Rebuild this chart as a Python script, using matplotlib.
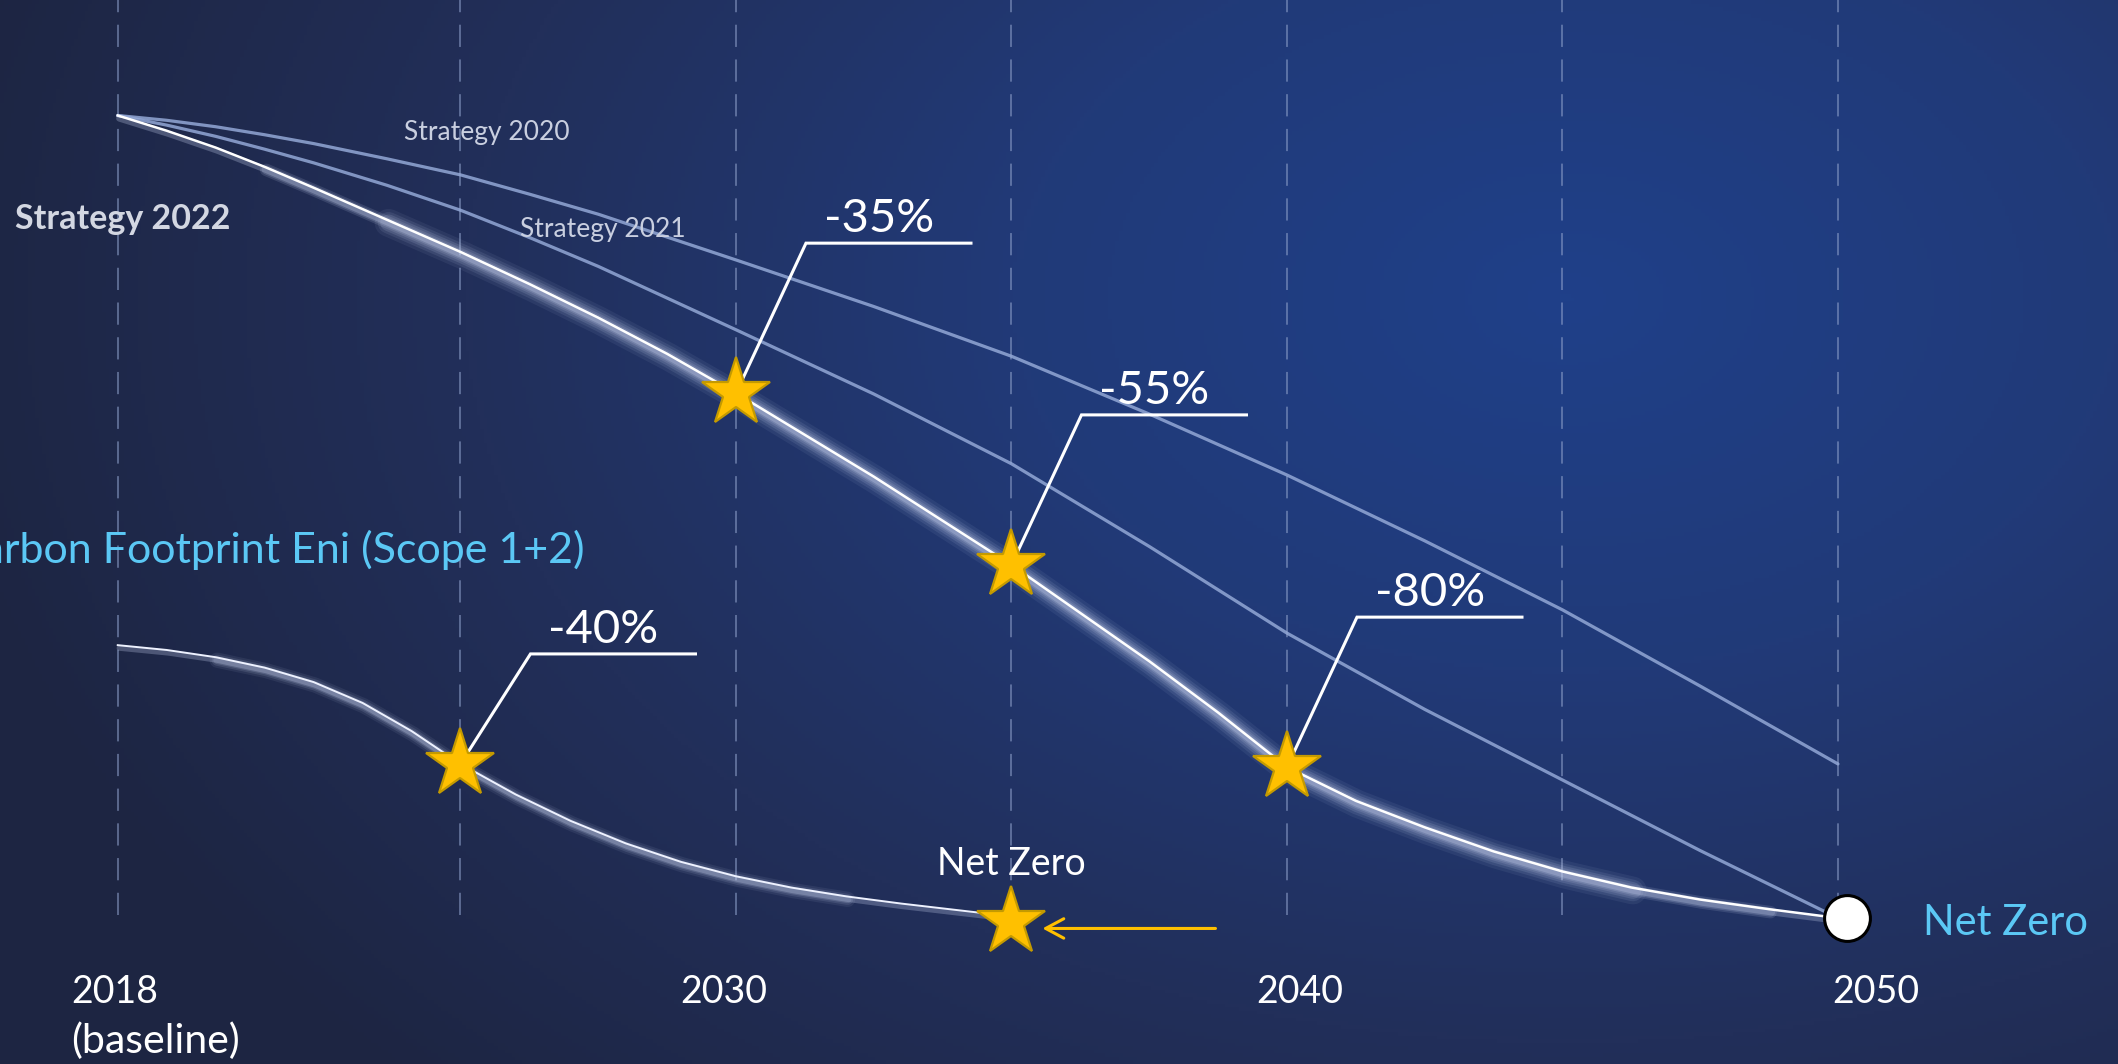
import numpy as np
import matplotlib.pyplot as plt
from matplotlib import transforms
from matplotlib.colors import LinearSegmentedColormap

# ---- values (index: 2018 baseline of Strategy 2022 = 100) ----
years_2020 = [2018, 2019, 2020, 2021, 2022, 2023.5, 2025, 2026.25, 2027.5, 2030, 2032.5,
              2035, 2037.5, 2040, 2042.5, 2045, 2047.5, 2050]
strategy_2020 = [100, 99.4, 98.6, 97.6, 96.5, 94.6, 92.6, 90.2, 87.7, 82.0, 76.2,
                 70.0, 62.8, 55.2, 47.0, 38.4, 28.9, 19.2]

years_2021 = [2018, 2019, 2020, 2021, 2022, 2023.5, 2025, 2026.25, 2027.5, 2030, 2032.5,
              2035, 2037.5, 2040, 2042.5, 2045, 2047.5, 2050]
strategy_2021 = [100, 98.8, 97.4, 95.8, 94.1, 91.3, 88.2, 84.8, 81.2, 73.3, 65.3,
                 56.6, 46.3, 35.5, 26.0, 17.2, 8.4, 0.0]

years_2022 = [2018, 2019, 2020, 2021, 2022, 2023.5, 2025, 2026.25, 2027.5, 2028.75, 2030,
              2032.5, 2035, 2037.5, 2038.75, 2040, 2041.25, 2042.5, 2043.75, 2045,
              2046.25, 2047.5, 2048.75, 2050]
strategy_2022 = [100, 98.1, 96.0, 93.6, 91.0, 87.0, 83.0, 79.0, 74.8, 70.3, 65.4,
                 55.0, 44.0, 32.0, 25.6, 18.8, 14.6, 11.3, 8.3, 5.8,
                 3.8, 2.3, 1.1, 0.0]

years_fp = [2018, 2019, 2020, 2021, 2022, 2023, 2024, 2025, 2026, 2027, 2028, 2029,
            2030, 2031, 2032, 2033, 2034.5]
footprint = [34.0, 33.4, 32.5, 31.2, 29.4, 26.8, 23.3, 19.2, 15.4, 12.1, 9.3, 7.0,
             5.2, 3.8, 2.7, 1.8, 0.6]

milestone_years = [2030, 2035, 2040]
milestone_labels = ["-35%", "-55%", "-80%"]
fp_milestone_year = 2025
fp_milestone_label = "-40%"
fp_netzero_year = 2035
netzero_year = 2050

grid_years = [2018, 2025, 2030, 2035, 2040, 2045, 2050]
tick_labels = ["2018", "2030", "2040", "2050"]
tick_pos = [2017.94, 2029.78, 2040.23, 2050.69]

# ---- layout helpers ----
BASE_POS = 2018.78          # baseline drawn a little right of a linear 2018
PX_X = 1 / 55.1             # years per pixel
PX_Y = 1 / 8.025            # index units per pixel


def xpos(year):
    return np.interp(year, [2018, 2025, 2050], [BASE_POS, 2025, 2050])


def val_at(years, vals, year):
    return vals[list(years).index(year)]


plt.rcParams['font.family'] = ['Lato', 'DejaVu Sans']

fig = plt.figure(figsize=(21.18, 10.64), dpi=100)

# background gradient
bg = fig.add_axes([0, 0, 1, 1], zorder=-10)
h, w = 300, 600
yy, xx = np.mgrid[0:1:h * 1j, 0:1:w * 1j]
d = np.sqrt(((xx - 0.74) / 0.78) ** 2 + ((yy - 0.28) / 1.05) ** 2)
bg_cmap = LinearSegmentedColormap.from_list(
    "bg", ["#1f4089", "#213a78", "#222f5a", "#1d2542"])
bg.imshow(d, cmap=bg_cmap, vmin=0, vmax=1.0, aspect='auto', extent=[0, 1, 0, 1], origin='upper')
bg.axis('off')

ax = fig.add_axes([0, 0, 1, 1])
ax.patch.set_alpha(0)
ax.set_xlim(2016.643, 2055.082)
ax.set_ylim(-18.19, 114.39)
ax.axis('off')

# dashed year grid
glw = 1.1
for gy in grid_years:
    ax.plot([xpos(gy)] * 2, [0.4, 114.39], color='#8d9fc9', alpha=0.7, lw=glw,
            ls=(0, (16 / glw, 9 / glw)), zorder=1)

# older strategies
for yrs, vals in ((years_2020, strategy_2020), (years_2021, strategy_2021)):
    ax.plot(xpos(yrs), vals, color='#93a8d6', alpha=0.85, lw=2.3,
            solid_capstyle='round', solid_joinstyle='round', zorder=3)

# soft glow below the highlighted paths
glow_tr = transforms.offset_copy(ax.transData, fig=fig, x=1.5, y=-3, units='dots')


def glow_line(xs, ys, widths, alphas):
    for lw, a in zip(widths, alphas):
        ax.plot(xs, ys, color='#c8d3f0', alpha=a, lw=lw, transform=glow_tr,
                solid_capstyle='round', solid_joinstyle='round', zorder=4)


def sel(years, vals, lo, hi):
    xs = [y for y in years if lo <= y <= hi]
    vs = [v for y, v in zip(years, vals) if lo <= y <= hi]
    return xpos(xs), vs


x22 = xpos(years_2022)
glow_line(x22, strategy_2022, [4.5], [0.28])
glow_line(*sel(years_2022, strategy_2022, 2021, 2048.75), [9, 6.5], [0.14, 0.2])
glow_line(*sel(years_2022, strategy_2022, 2023.5, 2046.25), [20, 15.5, 12], [0.07, 0.1, 0.14])
ax.plot(x22, strategy_2022, color='white', lw=1.8, solid_joinstyle='round', zorder=5)

xfp = xpos(years_fp)
glow_line(xfp, footprint, [3.8], [0.28])
glow_line(*sel(years_fp, footprint, 2020, 2032), [11, 8, 5.5], [0.08, 0.12, 0.18])
ax.plot(xfp, footprint, color='#eef2ff', lw=1.4, solid_joinstyle='round', zorder=5)

# milestone stars with leader lines
star_kw = dict(marker='*', ms=52, mfc='#FFC000', mec='#C49A00', mew=1.6, ls='none', zorder=7)


def milestone(year, y, label, rise):
    sx = xpos(year)
    kx, ky = sx + 70 * PX_X, y + rise * PX_Y
    ex = kx + 165 * PX_X
    ax.plot([sx, kx, ex], [y, ky, ky], color='white', lw=2.2,
            solid_joinstyle='miter', zorder=6)
    ax.plot(sx, y, **star_kw)
    ax.text(kx + 73 * PX_X, ky + 11 * PX_Y, label, color='white', fontsize=34,
            ha='center', va='baseline', zorder=8)


for yr, lab in zip(milestone_years, milestone_labels):
    milestone(yr, val_at(years_2022, strategy_2022, yr), lab, 150)
milestone(fp_milestone_year, val_at(years_fp, footprint, fp_milestone_year), fp_milestone_label, 110)

# footprint net zero
nz_y = -0.5
ax.plot(xpos(fp_netzero_year), nz_y, **star_kw)
ax.annotate('', xy=(xpos(fp_netzero_year) + 31 * PX_X, nz_y - 0.8),
            xytext=(xpos(fp_netzero_year) + 204 * PX_X, nz_y - 0.8),
            arrowprops=dict(arrowstyle='->,head_length=0.65,head_width=0.35',
                            color='#FFC000', lw=2.2, mutation_scale=20,
                            shrinkA=0, shrinkB=0), zorder=7)
ax.text(xpos(fp_netzero_year), 5.4, "Net Zero", color='white', fontsize=27,
        ha='center', va='baseline', zorder=8)

# 2050 net zero
ax.plot(xpos(netzero_year) + 9 * PX_X, 0, marker='o', ms=33, mfc='white', mec='black',
        mew=2.2, ls='none', zorder=7)
ax.text(2051.54, -2.1, "Net Zero", color='#5BC8F5', fontsize=30,
        ha='left', va='baseline', zorder=8)

# series labels
ax.text(2023.97, 96.9, "Strategy 2020", color='#c9cfe0', fontsize=19, va='baseline')
ax.text(2026.08, 84.9, "Strategy 2021", color='#c9cfe0', fontsize=19, va='baseline')
ax.text(2016.92, 85.9, "Strategy 2022", color='#d3d7e2', fontsize=24.5,
        fontweight='bold', va='baseline')
ax.text(2027.26, 44.2, "Carbon Footprint Eni (Scope 1+2)", color='#5BC8F5',
        fontsize=31, ha='right', va='baseline')

# year labels
for xp, lab in zip(tick_pos, tick_labels):
    ha = 'left' if lab == "2018" else 'center'
    ax.text(xp, -10.6, lab, color='white', fontsize=27, ha=ha, va='baseline')
ax.text(tick_pos[0], -16.8, "(baseline)", color='white', fontsize=29.5,
        ha='left', va='baseline')

fig.savefig("out.png", dpi=100)
